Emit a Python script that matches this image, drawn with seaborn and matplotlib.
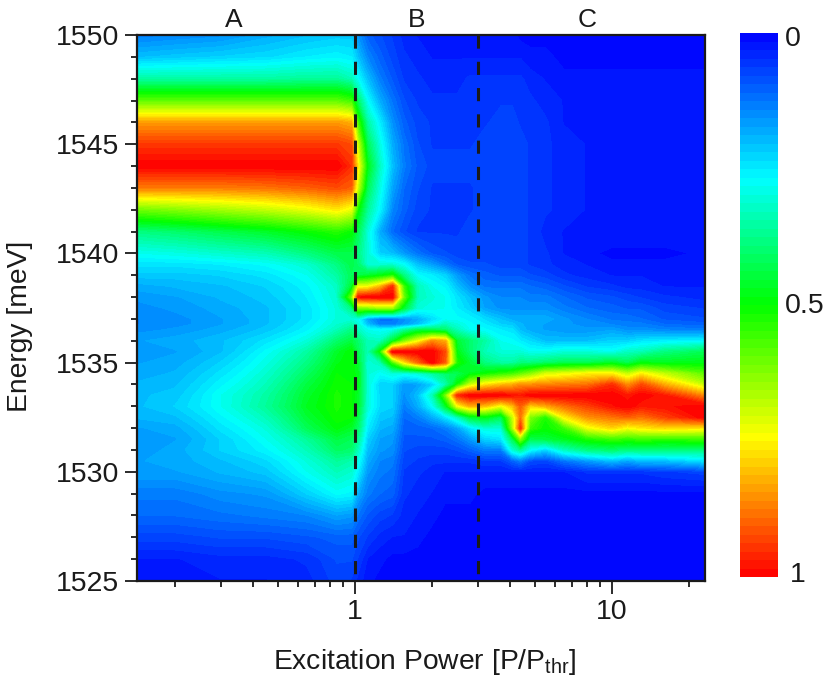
import numpy as np
import pandas as pd
import matplotlib
matplotlib.use("Agg")
import matplotlib.pyplot as plt
from matplotlib.colors import LinearSegmentedColormap
from matplotlib.ticker import FixedLocator, NullFormatter
import seaborn as sns

# excitation power columns [P/Pthr]
power = [0.142, 0.2, 0.3, 0.45, 0.65, 0.85, 0.97, 1.03, 1.12, 1.25, 1.4, 1.55, 1.75, 2.0, 2.25,
         2.5, 2.8, 3.2, 3.7, 4.1, 4.4, 4.8, 5.5, 6.5, 8, 10, 11.5, 13, 16, 23]

# normalised intensity, one row per energy [meV]
e1550 = [.13, .14, .15, .18, .20, .21, .21, .15, .10, .08, .06, .04, .03, .02, .02, .02, .02, .02, .02, .02, .01, .01, .01, .01, .01, .01, .00, .00, .00, .00]
e1549 = [.20, .21, .22, .23, .25, .26, .25, .20, .14, .10, .07, .05, .04, .03, .03, .03, .03, .03, .03, .03, .03, .02, .02, .01, .01, .01, .01, .01, .01, .01]
e1548 = [.35, .35, .35, .35, .36, .36, .33, .27, .20, .13, .09, .06, .05, .04, .04, .04, .05, .05, .05, .05, .05, .04, .03, .02, .02, .02, .02, .02, .02, .02]
e1547 = [.58, .58, .58, .58, .58, .58, .55, .40, .27, .18, .12, .08, .06, .05, .05, .05, .06, .06, .06, .06, .06, .05, .04, .03, .02, .02, .02, .02, .02, .02]
e1546 = [.84, .84, .84, .84, .84, .84, .82, .55, .35, .25, .15, .10, .07, .06, .06, .06, .06, .06, .07, .07, .06, .06, .05, .03, .03, .02, .02, .02, .02, .02]
e1545 = [.94, .94, .94, .94, .94, .94, .92, .68, .42, .29, .18, .12, .08, .06, .06, .06, .06, .07, .07, .07, .07, .06, .05, .04, .03, .03, .03, .03, .03, .03]
e1544 = [1.0, 1.0, 1.0, 1.0, 1.0, 1.0, .95, .75, .48, .32, .20, .13, .09, .07, .07, .07, .07, .07, .07, .07, .07, .06, .05, .04, .03, .03, .03, .03, .03, .03]
e1543 = [.87, .87, .87, .88, .90, .92, .90, .68, .42, .29, .17, .11, .08, .06, .06, .06, .06, .07, .07, .07, .07, .06, .05, .04, .03, .03, .03, .03, .03, .03]
e1542 = [.60, .62, .65, .68, .72, .76, .72, .50, .36, .26, .14, .10, .07, .06, .06, .06, .06, .07, .07, .07, .07, .06, .05, .04, .03, .03, .03, .03, .03, .03]
e1541 = [.38, .40, .43, .46, .50, .53, .50, .42, .30, .18, .11, .08, .06, .06, .06, .06, .07, .07, .07, .07, .07, .06, .04, .03, .03, .03, .03, .03, .03, .03]
e1540 = [.28, .29, .31, .33, .38, .43, .43, .38, .30, .22, .20, .16, .12, .09, .08, .07, .07, .07, .07, .07, .07, .06, .05, .03, .02, .01, .01, .01, .01, .02]
e1539_5 = [.24, .24, .25, .27, .31, .38, .43, .40, .30, .30, .30, .27, .20, .16, .12, .09, .08, .08, .07, .07, .07, .06, .05, .04, .03, .02, .02, .02, .02, .02]
e1539 = [.21, .21, .22, .24, .28, .35, .42, .43, .45, .48, .52, .38, .27, .25, .22, .16, .12, .10, .09, .09, .09, .08, .07, .05, .04, .03, .03, .03, .03, .02]
e1538_5 = [.18, .19, .20, .22, .26, .32, .45, .72, .72, .80, .95, .55, .33, .28, .26, .20, .15, .12, .12, .12, .12, .11, .10, .08, .06, .05, .04, .04, .03, .03]
e1538 = [.16, .17, .19, .21, .25, .31, .60, .98, 1.0, 1.0, 1.0, .60, .33, .30, .28, .24, .20, .16, .14, .14, .14, .13, .13, .11, .09, .08, .07, .06, .05, .04]
e1537_5 = [.15, .16, .18, .20, .24, .30, .38, .62, .62, .65, .65, .45, .30, .29, .28, .25, .22, .17, .15, .15, .15, .15, .15, .13, .11, .10, .09, .09, .07, .06]
e1537 = [.14, .15, .17, .20, .24, .30, .30, .28, .17, .12, .12, .15, .18, .23, .27, .27, .26, .23, .20, .18, .18, .18, .18, .16, .14, .12, .12, .11, .09, .08]
e1536_75 = [.14, .15, .17, .20, .25, .31, .34, .30, .20, .13, .13, .16, .20, .27, .33, .30, .27, .25, .22, .21, .19, .18, .17, .16, .15, .14, .13, .13, .11, .10]
e1536_5 = [.15, .16, .18, .21, .26, .33, .38, .32, .28, .27, .28, .35, .42, .42, .40, .33, .28, .27, .25, .24, .20, .18, .17, .16, .16, .17, .15, .15, .14, .13]
e1536 = [.17, .18, .20, .24, .30, .40, .44, .40, .33, .32, .45, .60, .72, .85, .82, .45, .40, .35, .28, .27, .25, .23, .20, .20, .20, .22, .22, .24, .25, .26]
e1535_5 = [.16, .17, .20, .27, .35, .46, .50, .42, .33, .50, 1.0, 1.0, 1.0, 1.0, .92, .48, .40, .33, .30, .30, .30, .28, .28, .30, .30, .28, .32, .33, .38, .42]
e1535 = [.17, .18, .22, .29, .38, .48, .50, .45, .30, .33, .55, .75, .88, 1.0, .90, .52, .45, .38, .35, .35, .38, .38, .40, .42, .42, .46, .42, .48, .47, .48]
e1534_5 = [.18, .19, .24, .31, .41, .50, .50, .47, .30, .27, .30, .28, .30, .35, .40, .42, .47, .50, .53, .55, .58, .62, .70, .72, .75, .75, .68, .75, .68, .58]
e1534 = [.19, .20, .26, .33, .44, .51, .50, .47, .30, .22, .22, .16, .17, .22, .33, .50, .68, .76, .80, .82, .85, .85, .86, .87, .88, .95, .85, .92, .82, .68]
e1533_5 = [.20, .21, .28, .35, .46, .52, .50, .46, .30, .23, .22, .15, .20, .33, .60, .95, 1.0, 1.0, 1.0, .98, .97, 1.0, 1.0, 1.0, 1.0, 1.0, .97, 1.0, .97, .85]
e1533 = [.20, .22, .28, .36, .47, .52, .50, .45, .30, .23, .22, .13, .18, .27, .45, .72, .82, .80, .72, .80, .90, .78, .82, .88, .93, .98, 1.0, .97, .98, 1.0]
e1532_5 = [.19, .20, .26, .33, .45, .51, .50, .43, .27, .21, .20, .11, .13, .18, .24, .32, .45, .48, .42, .68, .88, .62, .52, .75, .85, .88, .90, .88, .93, 1.0]
e1532 = [.17, .18, .24, .30, .42, .49, .46, .40, .25, .19, .18, .10, .10, .11, .13, .17, .24, .30, .30, .65, .95, .55, .50, .55, .72, .78, .73, .76, .78, .76]
e1531_5 = [.16, .17, .22, .28, .36, .44, .42, .36, .22, .17, .16, .09, .09, .09, .10, .12, .16, .22, .24, .42, .62, .42, .44, .47, .52, .55, .54, .55, .54, .55]
e1531 = [.16, .18, .22, .26, .33, .41, .40, .32, .20, .16, .15, .08, .07, .07, .07, .08, .10, .13, .13, .30, .36, .27, .22, .32, .38, .40, .38, .38, .38, .38]
e1530_5 = [.17, .18, .20, .23, .30, .36, .34, .28, .18, .14, .13, .07, .06, .05, .05, .05, .05, .06, .06, .10, .13, .08, .07, .12, .16, .20, .17, .20, .20, .24]
e1530 = [.17, .17, .19, .21, .28, .33, .31, .25, .16, .13, .12, .06, .05, .04, .03, .03, .03, .03, .03, .03, .03, .03, .03, .03, .05, .05, .05, .05, .06, .07]
e1529 = [.13, .13, .15, .16, .22, .27, .26, .18, .13, .11, .10, .05, .04, .03, .02, .02, .02, .01, .01, .01, .01, .01, .01, .01, .01, .01, .01, .01, .01, .01]
e1528 = [.11, .11, .12, .13, .14, .17, .16, .12, .09, .07, .06, .04, .03, .02, .01, .01, .01, .01, .01, .01, .01, .01, .01, .01, .01, .01, .01, .01, .01, .01]
e1527 = [.07, .07, .08, .08, .09, .10, .10, .08, .06, .04, .03, .03, .02, .01, .01, .01, .01, .01, .01, .01, .01, .01, .01, .01, .01, .01, .01, .01, .01, .01]
e1526 = [.03, .03, .04, .04, .05, .08, .08, .06, .03, .02, .01, .01, .01, .01, .01, .01, .01, .01, .01, .01, .01, .01, .01, .01, .01, .01, .01, .01, .01, .01]
e1525 = [.02, .02, .03, .03, .04, .07, .06, .04, .02, .01, .01, .01, .01, .01, .01, .01, .01, .01, .01, .01, .01, .01, .01, .01, .01, .01, .01, .01, .01, .01]

energy = [1550, 1549, 1548, 1547, 1546, 1545, 1544, 1543, 1542, 1541, 1540, 1539.5, 1539, 1538.5, 1538, 1537.5,
          1537, 1536.75, 1536.5, 1536, 1535.5, 1535, 1534.5, 1534, 1533.5, 1533, 1532.5, 1532, 1531.5, 1531, 1530.5,
          1530, 1529, 1528, 1527, 1526, 1525]
rows = [e1550, e1549, e1548, e1547, e1546, e1545, e1544, e1543, e1542, e1541, e1540, e1539_5, e1539, e1538_5, e1538,
        e1537_5, e1537, e1536_75, e1536_5, e1536, e1535_5, e1535, e1534_5, e1534, e1533_5, e1533, e1532_5, e1532,
        e1531_5, e1531, e1530_5, e1530, e1529, e1528, e1527, e1526, e1525]

regions = ["A", "B", "C"]
region_pos = [0.338, 1.74, 8]
thresholds = [1, 3]
scale_labels = ["0", "0.5", "1"]

sns.set_theme(style="ticks")
plt.rcParams["font.family"] = ["Liberation Sans", "DejaVu Sans"]
plt.rcParams["text.color"] = "k"
plt.rcParams["mathtext.fontset"] = "custom"
plt.rcParams["mathtext.rm"] = "Liberation Sans"
plt.rcParams["mathtext.default"] = "regular"

cmap = LinearSegmentedColormap.from_list(
    "pl", [(0, "#0000ff"), (0.27, "#00ffff"), (0.5, "#00ff00"), (0.745, "#ffff00"), (1, "#ff0000")]
)
levels = np.linspace(0, 1, 65)

df = pd.DataFrame(rows, index=energy, columns=power)

fig = plt.figure(figsize=(8.3, 6.86), dpi=100)
ax = fig.add_axes([137 / 830, 1 - 581 / 686, 568 / 830, 546 / 686])
ax.contourf(df.columns, df.index, df.values, levels=levels, cmap=cmap, extend="both", antialiased=False)
ax.set_xscale("log")
ax.set(xlim=(0.142, 23), ylim=(1525, 1550))

for t in thresholds:
    ax.plot([t, t], [1550, 1525], color="k", lw=2.2, ls=(0, (4.3, 4.3)), dash_capstyle="butt")
for name, x in zip(regions, region_pos):
    ax.text(x, 1.028, name, transform=ax.get_xaxis_transform(), ha="center", va="center", fontsize=19)

ax.set_xticks([1, 10])
ax.set_xticklabels(["1", "10"])
ax.xaxis.set_minor_locator(FixedLocator([0.2, 0.3, 0.4, 0.5, 0.6, 0.7, 0.8, 0.9, 2, 3, 4, 5, 6, 7, 8, 9, 20]))
ax.xaxis.set_minor_formatter(NullFormatter())
ax.set_yticks([1525, 1530, 1535, 1540, 1545, 1550])
ax.yaxis.set_minor_locator(FixedLocator(np.arange(1525, 1551)))
ax.tick_params(which="major", length=9, width=1.3, labelsize=20.5, pad=4, color="k", labelcolor="k")
ax.tick_params(which="minor", length=4.5, width=1.3, color="k")
ax.set_xlabel(r"Excitation Power [P/P$_{thr}$]", fontsize=20.3, color="k")
ax.set_ylabel("Energy [meV]", fontsize=20.3, color="k")
ax.xaxis.set_label_coords(0.507, -0.12)
ax.yaxis.set_label_coords(-0.183, 0.467)
for s in ax.spines.values():
    s.set_linewidth(1.6)
    s.set_color("k")

# colour scale
cax = fig.add_axes([740 / 830, 1 - 577 / 686, 38 / 830, 544 / 686])
sns.heatmap(pd.DataFrame(levels[:-1] + 0.5 / 64), ax=cax, cmap=cmap, vmin=0, vmax=1, cbar=False,
            xticklabels=False, yticklabels=False)
for lab, y in zip(scale_labels, [39, 306, 575]):
    fig.text(785 / 830 if lab != "1" else 790 / 830, 1 - y / 686, lab, va="center", ha="left", fontsize=20.5)

fig.savefig("out.png", dpi=100)
